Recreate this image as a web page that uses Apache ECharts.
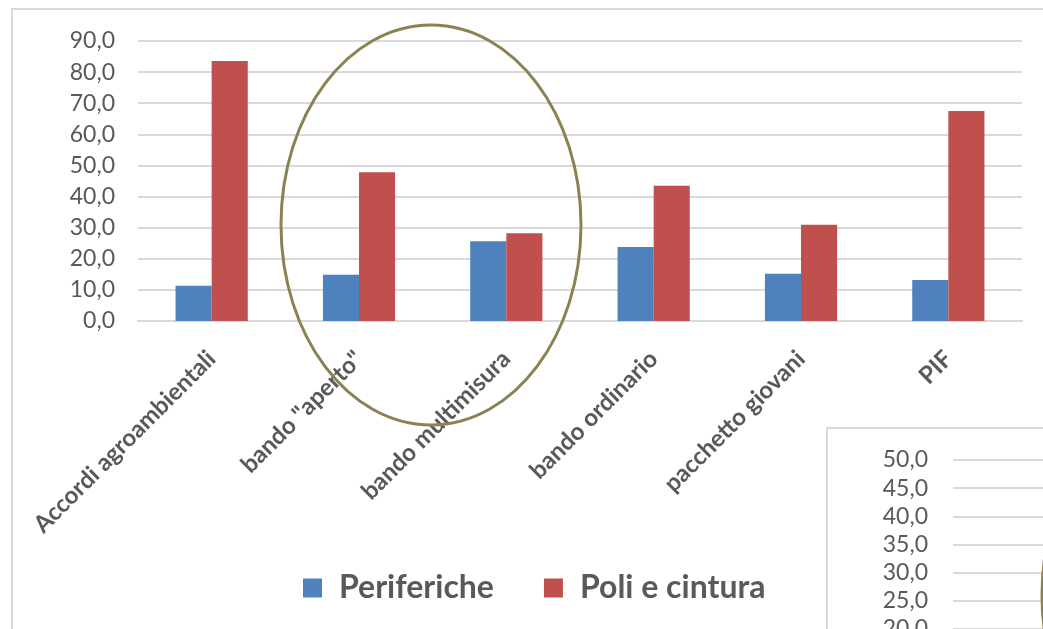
<!DOCTYPE html>
<html>
<head>
<meta charset="utf-8">
<script src="https://cdn.jsdelivr.net/npm/echarts@6/dist/echarts.min.js"></script>
<style>
html,body{margin:0;padding:0;background:#fff;}
#c{width:1043px;height:629px;}
</style>
</head>
<body>
<div id="c"></div>
<script>
var categories = ['Accordi agroambientali', 'bando "aperto"', 'bando multimisura', 'bando ordinario', 'pacchetto giovani', 'PIF'];
var periferiche = [11.3, 14.9, 25.6, 23.8, 15.2, 13.2];
var poliCintura = [83.6, 47.8, 28.2, 43.5, 30.9, 67.5];
var seriesNames = ['Periferiche', 'Poli e cintura'];
var insetTicks = [20, 50, 5];

var FONT = 'Lato';
var TXT = '#595959';
var GRID = '#d9d9d9';
function fmt(v){ return v.toFixed(1).replace('.', ','); }

var chart = echarts.init(document.getElementById('c'), null, {renderer:'canvas'});
chart.setOption({
  backgroundColor: '#ffffff',
  animation: false,
  textStyle: {fontFamily: FONT},
  legend: {
    left: 298, top: 567,
    itemWidth: 19, itemHeight: 19, itemGap: 50,
    icon: 'rect',
    textStyle: {fontFamily: FONT, fontSize: 32, fontWeight: 'bold', color: TXT, padding: [0,0,0,12]},
    data: seriesNames
  },
  grid: [
    {left: 138, right: 21, top: 41, bottom: 308, containLabel: false, outerBoundsMode: 'none'},
    {left: 953, top: 460, right: -200, bottom: 0, containLabel: false, outerBoundsMode: 'none'}
  ],
  xAxis: [
    {
      type: 'category', gridIndex: 0, data: categories,
      axisLine: {show: true, lineStyle: {color: GRID, width: 2}},
      axisTick: {show: false},
      axisLabel: {rotate: 45, interval: 0, margin: 34, fontFamily: FONT, fontSize: 24, fontWeight: 'bold', color: TXT}
    },
    {type: 'category', gridIndex: 1, data: [], show: false}
  ],
  yAxis: [
    {
      type: 'value', gridIndex: 0, min: 0, max: 90, interval: 10,
      axisLine: {show: false}, axisTick: {show: false},
      splitLine: {lineStyle: {color: GRID, width: 2}},
      axisLabel: {formatter: fmt, margin: 23, fontFamily: FONT, fontSize: 23, color: TXT}
    },
    {
      type: 'value', gridIndex: 1, min: insetTicks[0], max: insetTicks[1], interval: insetTicks[2],
      axisLine: {show: false}, axisTick: {show: false},
      splitLine: {lineStyle: {color: GRID, width: 2}},
      axisLabel: {formatter: fmt, margin: 25, fontFamily: FONT, fontSize: 23, color: TXT}
    }
  ],
  series: [
    {name: seriesNames[0], type: 'bar', xAxisIndex: 0, yAxisIndex: 0, data: periferiche,
     barGap: '0%', barCategoryGap: '51%', itemStyle: {color: '#4f81bd'}},
    {name: seriesNames[1], type: 'bar', xAxisIndex: 0, yAxisIndex: 0, data: poliCintura,
     barGap: '0%', barCategoryGap: '51%', itemStyle: {color: '#c0504d'}}
  ],
  graphic: [
    {type: 'rect', z: -10, silent: true, shape: {x: 12, y: 9, width: 1200, height: 800},
     style: {fill: 'none', stroke: GRID, lineWidth: 2}},
    {type: 'rect', z: -10, silent: true, shape: {x: 827, y: 428, width: 400, height: 400},
     style: {fill: 'none', stroke: GRID, lineWidth: 2}},
    {type: 'ellipse', z: 100, silent: true, shape: {cx: 431, cy: 225, rx: 150, ry: 200},
     style: {fill: 'none', stroke: '#8c8150', lineWidth: 3}},
    {type: 'ellipse', z: 100, silent: true, shape: {cx: 1192, cy: 595, rx: 150, ry: 200},
     style: {fill: 'none', stroke: '#8c8150', lineWidth: 3}}
  ]
});
</script>
</body>
</html>
